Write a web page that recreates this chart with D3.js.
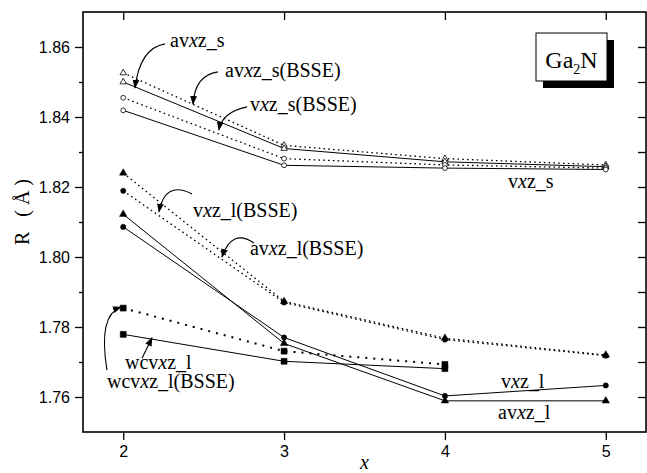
<!DOCTYPE html>
<html>
<head>
<meta charset="utf-8">
<script src="https://cdn.jsdelivr.net/npm/d3@7"></script>
<style>
    body { margin: 0; background: #fff; }
    .tick text { font-family: "Liberation Sans", Arial, sans-serif; font-size: 16px; fill: #000; }
    .tick line { stroke: #000; stroke-width: 1.3; }
</style>
</head>
<body>
<div id="graphContainer"></div>
<script>
// values
var xValues = [2, 3, 4, 5];
var xValuesWcv = [2, 3, 4];

var avxzS      = [1.8500, 1.8310, 1.8272, 1.8258];
var avxzSBsse  = [1.8526, 1.8319, 1.8281, 1.8263];
var vxzS       = [1.8419, 1.8262, 1.8254, 1.8250];
var vxzSBsse   = [1.8455, 1.8281, 1.8263, 1.8254];

var avxzL      = [1.8122, 1.7753, 1.7589, 1.7589];
var avxzLBsse  = [1.8240, 1.7873, 1.7768, 1.7720];
var vxzL       = [1.8086, 1.7770, 1.7603, 1.7633];
var vxzLBsse   = [1.8189, 1.7870, 1.7764, 1.7718];
var wcvxzL     = [1.7779, 1.7702, 1.7681];
var wcvxzLBsse = [1.7854, 1.7731, 1.7693];

var yMajor = [1.76, 1.78, 1.80, 1.82, 1.84, 1.86];
var yMinor = [1.77, 1.79, 1.81, 1.83, 1.85];

// labels and their arrows (in data units)
var labelText = ["avxz_s", "avxz_s(BSSE)", "vxz_s(BSSE)", "vxz_s", "vxz_l(BSSE)",
                 "avxz_l(BSSE)", "wcvxz_l", "wcvxz_l(BSSE)", "vxz_l", "avxz_l"];
var labelAt = [[2.291, 1.8600], [2.633, 1.8515], [2.788, 1.8418], [4.392, 1.8197], [2.434, 1.8115],
               [2.788, 1.8006], [2.011, 1.7679], [1.899, 1.7627], [4.349, 1.7626], [4.330, 1.7537]];
var arrows = [
    [[2.260, 1.8609], [2.104, 1.8597], [2.073, 1.8483]],
    [[2.589, 1.8529], [2.446, 1.8520], [2.434, 1.8437]],
    [[2.770, 1.8429], [2.614, 1.8414], [2.595, 1.8363]],
    [[2.428, 1.8180], [2.260, 1.8220], [2.222, 1.8129]],
    [[2.813, 1.8040], [2.676, 1.8083], [2.614, 1.8000]],
    [[2.117, 1.7711], [2.148, 1.7740], [2.179, 1.7769]],
    [[1.899, 1.7677], [1.843, 1.7834], [1.986, 1.7857]]
];

var series = [
    {vals: avxzSBsse,  xs: xValues,    dash: true,  sym: d3.symbolTriangle, size: 18, filled: false},
    {vals: avxzS,      xs: xValues,    dash: false, sym: d3.symbolTriangle, size: 18, filled: false},
    {vals: vxzSBsse,   xs: xValues,    dash: true,  sym: d3.symbolCircle,   size: 18, filled: false},
    {vals: vxzS,       xs: xValues,    dash: false, sym: d3.symbolCircle,   size: 18, filled: false},
    {vals: avxzLBsse,  xs: xValues,    dash: true,  sym: d3.symbolTriangle, size: 24, filled: true},
    {vals: vxzLBsse,   xs: xValues,    dash: true,  sym: d3.symbolCircle,   size: 22, filled: true},
    {vals: avxzL,      xs: xValues,    dash: false, sym: d3.symbolTriangle, size: 24, filled: true},
    {vals: vxzL,       xs: xValues,    dash: false, sym: d3.symbolCircle,   size: 22, filled: true},
    {vals: wcvxzLBsse, xs: xValuesWcv, dash: true,  sym: d3.symbolSquare,   size: 36, filled: true, heavy: true},
    {vals: wcvxzL,     xs: xValuesWcv, dash: false, sym: d3.symbolSquare,   size: 36, filled: true}
];

var width = 647, height = 473;
var svg = d3.select("#graphContainer").append("svg")
    .attr("width", width).attr("height", height);

var x = d3.scaleLinear().domain([1.75, 5.25]).range([83, 646]),
    y = d3.scaleLinear().domain([1.75, 1.87]).range([432, 12]);

// arrow head
svg.append("defs").append("marker")
    .attr("id", "head")
    .attr("viewBox", "0 0 10 10")
    .attr("refX", 9).attr("refY", 5)
    .attr("markerWidth", 9).attr("markerHeight", 9)
    .attr("markerUnits", "userSpaceOnUse")
    .attr("orient", "auto")
    .append("path").attr("d", "M0,1.2L10,5L0,8.8Z").attr("fill", "#000");

// axes
var axisG = svg.append("g");
axisG.append("g").attr("transform", "translate(" + x.range()[0] + ",0)")
    .call(d3.axisLeft(y).tickValues(yMajor).tickSize(8).tickPadding(5).tickFormat(d3.format(".2f")));
axisG.append("g").attr("transform", "translate(" + x.range()[0] + ",0)")
    .call(d3.axisLeft(y).tickValues(yMinor).tickSize(4).tickFormat(""));
axisG.append("g").attr("transform", "translate(" + x.range()[1] + ",0)")
    .call(d3.axisRight(y).tickValues(yMajor.concat(yMinor)).tickSize(-8).tickFormat(""));
axisG.append("g").attr("transform", "translate(0," + y.range()[0] + ")")
    .call(d3.axisBottom(x).tickValues(xValues).tickSize(8).tickPadding(6).tickFormat(d3.format("d")));
axisG.append("g").attr("transform", "translate(0," + y.range()[1] + ")")
    .call(d3.axisTop(x).tickValues(xValues).tickSize(-8).tickFormat(""));
axisG.selectAll(".domain").remove();

svg.append("rect")
    .attr("x", x.range()[0]).attr("y", y.range()[1])
    .attr("width", x.range()[1] - x.range()[0]).attr("height", y.range()[0] - y.range()[1])
    .attr("fill", "none").attr("stroke", "#000").attr("stroke-width", 1.6);

// axis titles
svg.append("text")
    .attr("transform", "translate(29,212) rotate(-90)")
    .attr("text-anchor", "middle")
    .attr("font-family", "'Liberation Serif', 'Times New Roman', serif")
    .attr("font-size", 20)
    .attr("textLength", 66).attr("lengthAdjust", "spacing")
    .text("R (Å)");
svg.append("text")
    .attr("x", (x(3) + x(4)) / 2).attr("y", 469)
    .attr("text-anchor", "middle")
    .attr("font-family", "'Liberation Serif', 'Times New Roman', serif")
    .attr("font-style", "italic")
    .attr("font-size", 20)
    .text("x");

// lines
var line = d3.line();
var plot = svg.append("g");
series.forEach(function (s) {
    var pts = s.xs.map(function (d, i) { return [x(d), y(s.vals[i])]; });
    plot.append("path")
        .attr("d", line(pts))
        .attr("fill", "none")
        .attr("stroke", "#000")
        .attr("stroke-width", s.heavy ? 2 : (s.dash ? 1.3 : 1))
        .attr("stroke-dasharray", s.dash ? (s.heavy ? "2,6" : "1.6,3.2") : null);
});
series.forEach(function (s) {
    plot.selectAll(null)
        .data(s.xs.map(function (d, i) { return [d, s.vals[i]]; }))
        .enter().append("path")
        .attr("transform", function (d) { return "translate(" + x(d[0]) + "," + y(d[1]) + ")"; })
        .attr("d", d3.symbol().type(s.sym).size(s.size))
        .attr("fill", s.filled ? "#000" : "#fff")
        .attr("stroke", "#000")
        .attr("stroke-width", s.filled ? 0.5 : 0.8);
});

// annotations
var notes = svg.append("g")
    .attr("font-family", "'Liberation Serif', 'Times New Roman', serif")
    .attr("font-size", 20);
labelText.forEach(function (t, i) {
    var parts = t.split("x");
    var txt = notes.append("text")
        .attr("x", x(labelAt[i][0])).attr("y", y(labelAt[i][1]));
    txt.append("tspan").text(parts[0]);
    txt.append("tspan").attr("font-style", "italic").text("x");
    txt.append("tspan").text(parts[1]);
});
arrows.forEach(function (a) {
    notes.append("path")
        .attr("d", "M" + x(a[0][0]) + "," + y(a[0][1]) +
                   "Q" + x(a[1][0]) + "," + y(a[1][1]) +
                   " " + x(a[2][0]) + "," + y(a[2][1]))
        .attr("fill", "none")
        .attr("stroke", "#000")
        .attr("stroke-width", 1.1)
        .attr("marker-end", "url(#head)");
});

// Ga2N box with shadow
var bx = x.range()[1] - 110, by = y.range()[1] + 21;
svg.append("rect").attr("x", bx + 7).attr("y", by + 7).attr("width", 71).attr("height", 48).attr("fill", "#000");
svg.append("rect").attr("x", bx).attr("y", by).attr("width", 71).attr("height", 48)
    .attr("fill", "#fff").attr("stroke", "#000").attr("stroke-width", 1);
var gl = svg.append("text")
    .attr("x", bx + 35.5).attr("y", by + 35)
    .attr("text-anchor", "middle")
    .attr("font-family", "'Liberation Serif', 'Times New Roman', serif")
    .attr("font-size", 24);
gl.append("tspan").text("Ga");
gl.append("tspan").attr("font-size", 14).attr("dy", 6).text("2");
gl.append("tspan").attr("dy", -6).text("N");
</script>
</body>
</html>
